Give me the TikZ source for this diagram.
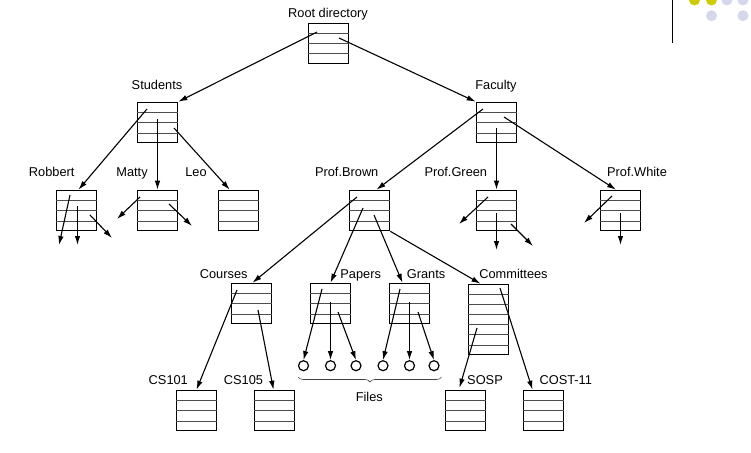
\documentclass[tikz,border=0pt]{standalone}
\usepackage{fontspec}
\setmainfont{Liberation Sans}
\usetikzlibrary{calc,arrows.meta,decorations.pathreplacing}
\definecolor{dotyellow}{RGB}{204,204,0}
\definecolor{dotlav}{RGB}{214,214,236}
\begin{document}
\begin{tikzpicture}[x=1pt,y=-1pt,
  rowline/.style={line width=0.8pt,black!70},
  dirbox/.style={draw,line width=1.6pt,minimum width=40pt,minimum height=40pt,inner sep=0pt},
  tallbox/.style={draw,line width=1.6pt,minimum width=40pt,minimum height=70pt,inner sep=0pt},
  filebox/.style={draw,circle,line width=1.2pt,minimum size=10pt,inner sep=0pt},
  lbl/.style={font=\fontsize{12.8}{14}\selectfont,inner sep=0pt,anchor=base},
  conn/.style={line width=1.1pt,-{Latex[length=9pt,width=5.5pt]}},
  dot/.style={circle,inner sep=0pt,minimum size=11pt}
]
\useasboundingbox (0,0) rectangle (751,452);

% decoration top right
\draw[line width=1.2pt] (672.5,0) coordinate (vl-a) -- (672.5,43) coordinate (vl-b);
\node[dot,fill=dotyellow] (d1) at (694.5,0) {};
\node[dot,fill=dotyellow] (d2) at (711.5,0) {};
\node[dot,fill=dotlav] (d3) at (727,0) {};
\node[dot,fill=dotlav] (d4) at (743,0) {};
\node[dot,fill=dotlav] (d5) at (711.5,15.7) {};
\node[dot,fill=dotlav] (d6) at (743,15.7) {};

% directory boxes
\node[dirbox] (root) at (328.5,43.5) {};
\node[dirbox] (stu) at (157.5,122.5) {};
\node[dirbox] (fac) at (496.5,122.5) {};
\node[dirbox] (rob) at (76.5,210.5) {};
\node[dirbox] (mat) at (157.5,210.5) {};
\node[dirbox] (leo) at (238.5,210.5) {};
\node[dirbox] (brown) at (369.5,210.5) {};
\node[dirbox] (green) at (496.5,210.5) {};
\node[dirbox] (white) at (620.5,210.5) {};
\node[dirbox] (courses) at (251.5,303.5) {};
\node[dirbox] (papers) at (330.5,303.5) {};
\node[dirbox] (grants) at (409.5,303.5) {};
\node[tallbox] (comm) at (488.5,319.5) {};
\node[dirbox] (cs101) at (196.5,410.5) {};
\node[dirbox] (cs105) at (274.5,410.5) {};
\node[dirbox] (sosp) at (465.5,410.5) {};
\node[dirbox] (cost) at (543.5,410.5) {};

% row lines
\foreach \n in {root,stu,fac,rob,mat,leo,brown,green,white,courses,papers,grants,cs101,cs105,sosp,cost}
  \foreach \f in {0.25,0.5,0.75}
    \draw[rowline] ($(\n.north west)!\f!(\n.south west)$) -- ($(\n.north east)!\f!(\n.south east)$);
\foreach \f in {1,...,6}
  \draw[rowline] ($(comm.north west)!\f/7!(comm.south west)$) -- ($(comm.north east)!\f/7!(comm.south east)$);

% files
\node[filebox] (f1) at (303.5,365.7) {};
\node[filebox] (f2) at (330.5,365.7) {};
\node[filebox] (f3) at (356,365.7) {};
\node[filebox] (f4) at (383,365.7) {};
\node[filebox] (f5) at (409.5,365.7) {};
\node[filebox] (f6) at (434,365.7) {};

% labels
\node[lbl] (t-root) at (328,17.5) {Root directory};
\node[lbl] (t-stu) at (157,89) {Students};
\node[lbl] (t-fac) at (496,89) {Faculty};
\node[lbl] (t-rob) at (51.7,176.5) {Robbert};
\node[lbl] (t-mat) at (132,176.5) {Matty};
\node[lbl] (t-leo) at (196,176.5) {Leo};
\node[lbl] (t-brown) at (346.7,176.5) {Prof.Brown};
\node[lbl] (t-green) at (455.8,176.5) {Prof.Green};
\node[lbl] (t-white) at (637,176.5) {Prof.White};
\node[lbl] (t-courses) at (223.7,278.5) {Courses};
\node[lbl] (t-papers) at (360.7,278.5) {Papers};
\node[lbl] (t-grants) at (426,278.5) {Grants};
\node[lbl] (t-comm) at (513.5,278.5) {Committees};
\node[lbl] (t-cs101) at (168.3,384) {CS101};
\node[lbl] (t-cs105) at (243.5,384) {CS105};
\node[lbl] (t-sosp) at (485,384) {SOSP};
\node[lbl] (t-cost) at (565.8,384) {COST-11};
\node[lbl] (t-files) at (369.3,401.7) {Files};

% brace
\coordinate (br-l) at (298.3,377);
\coordinate (br-r) at (441.5,377);
\draw[line width=0.6pt,black!75,decorate,decoration={brace,amplitude=5pt,mirror}] (br-l) -- (br-r);

% start points inside boxes
\coordinate (root-l) at (317,32);
\coordinate (root-r) at (339,38);
\coordinate (stu-a) at (147,109);
\coordinate (stu-b) at (157.5,119);
\coordinate (stu-c) at (174,128);
\coordinate (fac-a) at (483,109);
\coordinate (fac-b) at (496.5,128);
\coordinate (fac-c) at (504,117);
\coordinate (rob-a) at (70,195);
\coordinate (rob-b) at (77.5,206);
\coordinate (rob-c) at (90,215);
\coordinate (mat-a) at (140,197);
\coordinate (mat-b) at (169,204);
\coordinate (green-a) at (488,197);
\coordinate (green-b) at (496.5,213);
\coordinate (green-c) at (511,224);
\coordinate (white-a) at (612,196);
\coordinate (white-b) at (620.5,213);
\coordinate (brown-a) at (357,197);
\coordinate (brown-b) at (363,208);
\coordinate (brown-c) at (374,215);
\coordinate (courses-a) at (237,290);
\coordinate (courses-b) at (258,310);
\coordinate (papers-a) at (322,289);
\coordinate (papers-b) at (330.5,302);
\coordinate (papers-c) at (338,312);
\coordinate (grants-a) at (400,289);
\coordinate (grants-b) at (409.5,302);
\coordinate (grants-c) at (418,312);
\coordinate (comm-a) at (477,328);
\coordinate (comm-b) at (500,288);

% free ends
\coordinate (rob-x) at (59,245);
\coordinate (rob-y) at (77.5,245);
\coordinate (rob-z) at (112,238);
\coordinate (mat-x) at (117,219);
\coordinate (mat-y) at (192,226);
\coordinate (green-x) at (459,224);
\coordinate (green-y) at (496.5,250);
\coordinate (green-z) at (533,246);
\coordinate (white-x) at (584,223);
\coordinate (white-y) at (620.5,245);

% connectors
\draw[conn] (root-l) -- (stu.north east);
\draw[conn] (root-r) -- (fac.north west);
\draw[conn] (stu-a) -- ($(rob.north)+(2,0)$);
\draw[conn] (stu-b) -- (mat.north);
\draw[conn] (stu-c) -- ($(leo.north west)+(12,0)$);
\draw[conn] (rob-a) -- (rob-x);
\draw[conn] (rob-b) -- (rob-y);
\draw[conn] (rob-c) -- (rob-z);
\draw[conn] (mat-a) -- (mat-x);
\draw[conn] (mat-b) -- (mat-y);
\draw[conn] (fac-a) -- ($(brown.north)+(7,0)$);
\draw[conn] (fac-b) -- (green.north);
\draw[conn] (fac-c) -- ($(white.north)+(-4.5,0)$);
\draw[conn] (green-a) -- (green-x);
\draw[conn] (green-b) -- (green-y);
\draw[conn] (green-c) -- (green-z);
\draw[conn] (white-a) -- (white-x);
\draw[conn] (white-b) -- (white-y);
\draw[conn] (brown-a) -- ($(courses.north)+(1,0)$);
\draw[conn] (brown-b) -- (papers.north);
\draw[conn] (brown-c) -- ($(grants.north)+(-7,0)$);
\draw[conn] (brown.south east) -- ($(comm.north)+(-8,0)$);
\draw[conn] (courses-a) -- (cs101.north);
\draw[conn] (courses-b) -- ($(cs105.north)+(-1,0)$);
\draw[conn] (papers-a) -- (f1.north);
\draw[conn] (papers-b) -- (f2.north);
\draw[conn] (papers-c) -- (f3.north);
\draw[conn] (grants-a) -- (f4.north);
\draw[conn] (grants-b) -- (f5.north);
\draw[conn] (grants-c) -- (f6.north);
\draw[conn] (comm-a) -- ($(sosp.north)+(-6,-2)$);
\draw[conn] (comm-b) -- ($(cost.north)+(-11,0)$);
\end{tikzpicture}
\end{document}
